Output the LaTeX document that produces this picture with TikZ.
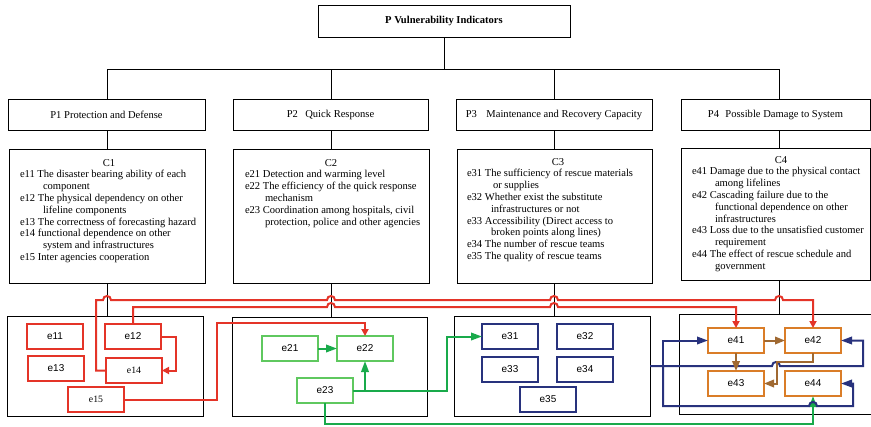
\documentclass[tikz,border=0pt]{standalone}
\usepackage{fontspec}
\setmainfont{Liberation Serif}
\setsansfont{Liberation Sans}
\usetikzlibrary{arrows.meta}
\definecolor{myred}{RGB}{228,52,40}
\definecolor{mygreen}{RGB}{25,170,75}
\definecolor{mygreenbox}{RGB}{95,200,95}
\definecolor{mynavy}{RGB}{40,50,125}
\definecolor{myorange}{RGB}{218,125,40}
\definecolor{mybrown}{RGB}{160,105,50}
\tikzset{
  box/.style={draw, line width=1bp, inner sep=0pt, outer sep=0pt, anchor=north west},
  pbox/.style={box, minimum height=31bp, font=\fontsize{10.6}{12}\selectfont},
  ctext/.style={anchor=north west, inner sep=0pt, outer sep=0pt, align=left, font=\fontsize{10.6}{11.8}\selectfont},
  ebox/.style={draw, line width=2bp, minimum width=56bp, minimum height=25bp, inner sep=0pt, outer sep=0pt, font=\sffamily\fontsize{10}{12}\selectfont},
  ered/.style={ebox, draw=myred},
  eredserif/.style={ebox, draw=myred, font=\rmfamily\fontsize{9.8}{12}\selectfont},
  egreen/.style={ebox, draw=mygreenbox},
  enavy/.style={ebox, draw=mynavy},
  eorange/.style={ebox, draw=myorange},
  link/.style={draw=black, line width=1bp},
  redarrow/.style={draw=myred, line width=2bp, -{Triangle[length=7bp,width=7bp]}},
  greenarrow/.style={draw=mygreen, line width=2bp, -{Triangle[length=11bp,width=7.5bp]}},
  navyarrow/.style={draw=mynavy, line width=2bp, -{Triangle[length=11bp,width=7.5bp]}},
  brownarrow/.style={draw=mybrown, line width=2bp, -{Triangle[length=10bp,width=7.5bp]}},
  hop/.style 2 args={insert path={-- (#1-4,#2) .. controls (#1-4,#2-5.3) and (#1+4,#2-5.3) .. (#1+4,#2)}},
}
\begin{document}
\begin{tikzpicture}[x=1bp,y=-1bp]
\useasboundingbox[fill=white] (0,0) rectangle (871,426);

% top level
\node[box, minimum width=252bp, minimum height=32bp, font=\bfseries\fontsize{10.6}{12}\selectfont] (top) at (318,5) {P Vulnerability Indicators};
\node[pbox, minimum width=197bp] (P1) at (8,99) {P1 Protection and Defense};
\node[pbox, minimum width=195bp] (P2) at (233,99) {P2\hspace{0.7em}Quick Response};
\node[pbox, minimum width=196bp] (P3) at (456,99) {P3\hspace{0.9em}Maintenance and Recovery Capacity};
\node[pbox, minimum width=189bp] (P4) at (681,99) {P4\hspace{0.6em}Possible Damage to System};

% C boxes
\node[box, minimum width=196bp, minimum height=134bp] (C1) at (9,149) {};
\node[box, minimum width=196bp, minimum height=134bp] (C2) at (233,149) {};
\node[box, minimum width=195bp, minimum height=134bp] (C3) at (457,149) {};
\node[box, minimum width=189bp, minimum height=132bp] (C4) at (681,148) {};

\node[ctext] (C1t) at (20,158) {\makebox[178bp]{\strut C1}\\
e11 The disaster bearing ability of each\\
\hspace*{23bp}component\\
e12 The physical dependency on other\\
\hspace*{23bp}lifeline components\\
e13 The correctness of forecasting hazard\\
e14 functional dependence on other\\
\hspace*{23bp}system and infrastructures\\
e15 Inter agencies cooperation};

\node[ctext] (C2t) at (245,158) {\makebox[172bp]{\strut C2}\\
e21 Detection and warming level\\
e22 The efficiency of the quick response\\
\hspace*{20bp}mechanism\\
e23 Coordination among hospitals, civil\\
\hspace*{20bp}protection, police and other agencies};

\node[ctext] (C3t) at (467,157) {\makebox[182bp]{\strut C3}\\
e31 The sufficiency of rescue materials\\
\hspace*{26bp}or supplies\\
e32 Whether exist the substitute\\
\hspace*{24bp}infrastructures or not\\
e33 Accessibility (Direct access to\\
\hspace*{24bp}broken points along lines)\\
e34 The number of rescue teams\\
e35 The quality of rescue teams};

\node[ctext] (C4t) at (692,155) {\makebox[178bp]{\strut C4}\\
e41 Damage due to the physical contact\\
\hspace*{23bp}among lifelines\\
e42 Cascading failure due to the\\
\hspace*{23bp}functional dependence on other\\
\hspace*{23bp}infrastructures\\
e43 Loss due to the unsatisfied customer\\
\hspace*{23bp}requirement\\
e44 The effect of rescue schedule and\\
\hspace*{23bp}government};

% B boxes
\node[box, minimum width=196bp, minimum height=100bp] (B1) at (7,316) {};
\node[box, minimum width=195bp, minimum height=99bp] (B2) at (232,317) {};
\node[box, minimum width=196bp, minimum height=100bp] (B3) at (454,316) {};
\node[box, minimum width=192bp, minimum height=100bp] (B4) at (679,314) {};

% tree connectors
\coordinate (k1) at (107,69);
\coordinate (k2) at (331,69);
\coordinate (k3) at (554,69);
\coordinate (k4) at (779,69);
\draw[link] (top.south) -- (top.south |- k1);
\draw[link] (k1) -- (k4);
\foreach \i in {1,2,3,4}{
  \draw[link] (k\i) -- (k\i |- P\i.north);
  \draw[link] (k\i |- P\i.south) -- (k\i |- C\i.north);
  \draw[link] (k\i |- C\i.south) -- (k\i |- B\i.north);
}

% e nodes
\node[ered] (e11) at (55,336.5) {e11};
\node[ered] (e12) at (133,336.5) {e12};
\node[ered] (e13) at (56,368.5) {e13};
\node[eredserif] (e14) at (134,370.5) {e14};
\node[eredserif] (e15) at (96,399.5) {e15};

\node[egreen] (e21) at (290,348.5) {e21};
\node[egreen] (e22) at (365,348.5) {e22};
\node[egreen] (e23) at (325,390.5) {e23};

\node[enavy] (e31) at (510,336.5) {e31};
\node[enavy] (e32) at (585,336.5) {e32};
\node[enavy] (e33) at (510,369.5) {e33};
\node[enavy] (e34) at (585,369.5) {e34};
\node[enavy] (e35) at (548,399.5) {e35};

\node[eorange] (e41) at (736,340.5) {e41};
\node[eorange] (e42) at (813,340.5) {e42};
\node[eorange] (e43) at (736,383.5) {e43};
\node[eorange] (e44) at (813,383.5) {e44};

% red connectors
\draw[redarrow] (e14.west) -| (96,300) [hop={107}{300}] [hop={331}{300}] [hop={554}{300}] [hop={779}{300}] -| (e42.north);
\draw[redarrow] (e12.north) |- (320,307) [hop={331}{307}] [hop={554}{307}] -| (e41.north);
\draw[redarrow] (e15.east) -| (217,323) -| (e22.north);
\draw[redarrow] (e12.east) -- ++(15,0) |- (e14.east);

% green connectors
\draw[greenarrow] (e21.east) -- (e22.west);
\draw[greenarrow] (e23.east) -| (e22.south);
\draw[greenarrow] (e23.east) -- (447,390.5) |- (e31.west);
\draw[greenarrow] (e23.south) -- (e23.south |- 0,424) -| (e44.south);

% navy connectors
\coordinate (nj) at (663,366);
\draw[navyarrow] (B3.east) [hop={776}{366}] -- (863,366) |- (e42.east);
\draw[navyarrow] (nj) |- (e41.west);
\draw[navyarrow] (nj) -- (663,406) [hop={813}{406}] -- (853,406) |- (e44.east);

% brown connectors
\draw[brownarrow] (e41.east) -- (e42.west);
\draw[brownarrow] (e41.south) -- (e43.north);
\draw[brownarrow] (e42.south) |- (777,362) |- (e43.east);
\end{tikzpicture}
\end{document}
